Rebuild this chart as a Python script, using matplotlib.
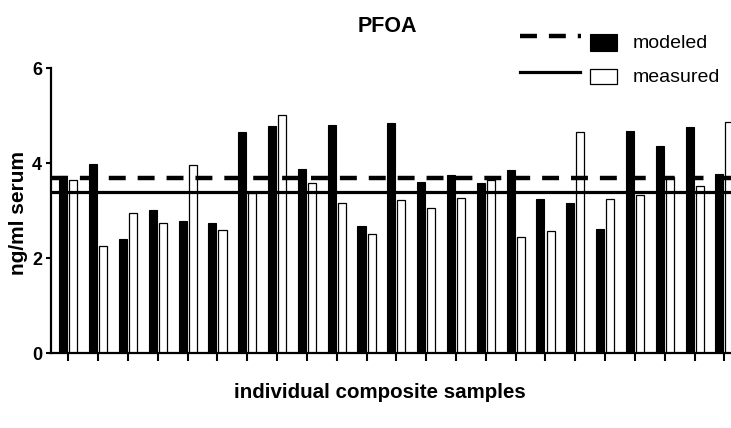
import matplotlib
matplotlib.use("Agg")
import matplotlib.pyplot as plt
import numpy as np
from matplotlib.lines import Line2D
from matplotlib.patches import Rectangle

plt.rcParams['font.family'] = ['Liberation Sans', 'DejaVu Sans']
plt.rcParams['lines.scale_dashes'] = False

# Data
modeled = [3.74, 3.99, 2.41, 3.02, 2.79, 2.74, 4.65, 4.79, 3.88, 4.81, 2.69, 4.85,
           3.60, 3.76, 3.58, 3.85, 3.24, 3.16, 2.62, 4.67, 4.36, 4.77, 3.77]
measured = [3.64, 2.25, 2.95, 2.75, 3.96, 2.59, 3.37, 5.02, 3.58, 3.16, 2.52, 3.23,
            3.05, 3.27, 3.65, 2.45, 2.58, 4.65, 3.24, 3.33, 3.72, 3.52, 4.86]
modeled_mean = 3.70
measured_mean = 3.39
y_ticks = [0, 2, 4, 6]

W, H = 731, 428
fig = plt.figure(figsize=(W / 100, H / 100), dpi=100)

def fx(px):
    return px / W

def fy(py):
    return 1 - py / H

ax = fig.add_axes([fx(51), fy(353.3), 1 - fx(51), (353.3 - 68.3) / H])
x = np.arange(len(modeled))
bw = 0.27
ax.bar(x - 0.17, modeled, width=bw, color='black', edgecolor='black', linewidth=0.8, zorder=2)
ax.bar(x + 0.17, measured, width=bw, color='white', edgecolor='black', linewidth=0.9, zorder=2)
ax.axhline(modeled_mean, color='black', lw=3.2, dashes=(12.2, 8.6), zorder=3)
ax.axhline(measured_mean, color='black', lw=2.3, zorder=3)

ax.set_xlim(-0.58, 22.22)
ax.set_ylim(0, 6)
ax.set_yticks(y_ticks)
ax.set_yticklabels([str(t) for t in y_ticks], fontweight='bold', fontsize=13)
ax.set_xticks(x)
ax.set_xticklabels([])
for s in ['top', 'right']:
    ax.spines[s].set_visible(False)
for s in ['left', 'bottom']:
    ax.spines[s].set_linewidth(1.6)
ax.tick_params(axis='y', length=3.5, width=1.5, pad=3)
ax.tick_params(axis='x', length=6, width=1.5)

fig.text(fx(387), fy(27), 'PFOA', fontsize=15.5, fontweight='bold', ha='center', va='center')
fig.text(fx(19), fy(213), 'ng/ml serum', fontsize=15, fontweight='bold', rotation=90,
         ha='center', va='center')
fig.text(fx(380), fy(393), 'individual composite samples', fontsize=14.8, fontweight='bold',
         ha='center', va='center')

# Legend
fig.add_artist(Line2D([fx(520), fx(581)], [fy(36), fy(36)], color='black', lw=3.2,
                      dashes=(12.2, 8.6), transform=fig.transFigure))
fig.add_artist(Line2D([fx(520), fx(580)], [fy(72), fy(72)], color='black', lw=2.3,
                      transform=fig.transFigure))
fig.add_artist(Rectangle((fx(590), fy(51)), fx(617) - fx(590), (51 - 34) / H,
                         facecolor='black', edgecolor='black', lw=0.8, transform=fig.transFigure))
fig.add_artist(Rectangle((fx(590), fy(84)), fx(617) - fx(590), (84 - 69) / H,
                         facecolor='white', edgecolor='black', lw=0.9, transform=fig.transFigure))
fig.text(fx(633), fy(43), 'modeled', fontsize=14, ha='left', va='center')
fig.text(fx(633), fy(77), 'measured', fontsize=14, ha='left', va='center')

fig.savefig('out.png', dpi=100)
